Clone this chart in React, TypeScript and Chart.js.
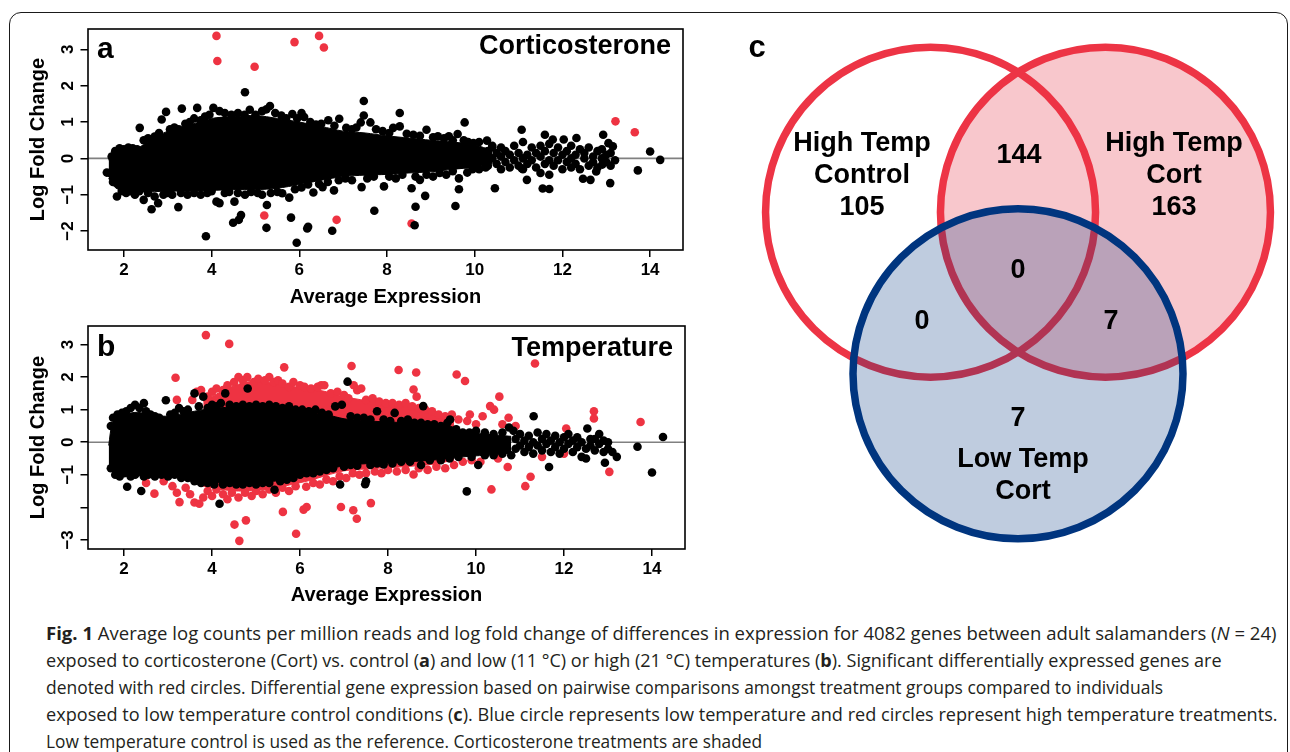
import React, { useEffect, useLayoutEffect, useRef, useState } from 'react';
import { Chart, registerables } from 'chart.js';

Chart.register(...registerables);

type Pt = [number, number];

const PLOT_FONT = '"Liberation Sans", Arial, Helvetica, sans-serif';
const RED = '#ee3342';
const BLACK = '#000000';

// ---------------- shared x axis ----------------
const xTicks = [2, 4, 6, 8, 10, 12, 14];
const xRange = [1.18, 14.75];

// ---------------- panel a : Corticosterone ----------------
const aYTicks = [-2, -1, 0, 1, 2, 3];
const aYTickLabels = ['\u22122', '\u22121', '0', '1', '2', '3'];
const aYRange = [-2.52, 3.56];
const aCoreX = [1.65, 1.8, 2.0, 2.3, 2.6, 3.0, 3.5, 4.0, 4.5, 5.0, 5.5, 6.0, 6.5, 7.0, 7.5, 8.0, 8.5, 9.0, 9.5, 10.0, 10.4];
const aCoreUpper = [-0.05, 0.2, 0.25, 0.28, 0.5, 0.75, 0.92, 1.1, 1.15, 1.18, 1.1, 1.0, 0.88, 0.75, 0.7, 0.62, 0.56, 0.5, 0.45, 0.37, 0.22];
const aCoreLower = [-0.55, -0.8, -0.9, -0.92, -0.92, -0.9, -0.9, -0.88, -0.86, -0.86, -0.82, -0.72, -0.6, -0.5, -0.46, -0.44, -0.4, -0.37, -0.3, -0.24, -0.14];
const aRed: Pt[] = [
  [4.11, 3.37], [4.13, 2.68], [4.98, 2.52], [5.89, 3.2], [6.45, 3.37], [6.56, 3.05],
  [13.21, 1.02], [13.65, 0.72], [5.2, -1.57], [6.85, -1.69], [8.56, -1.79],
];
const aBlack: Pt[] = [
  // upper fringe
  [1.72, 0.05], [1.8, 0.2], [1.9, 0.28], [2.0, 0.25], [2.1, 0.3], [2.2, 0.28], [2.3, 0.25], [2.36, 0.84],
  [2.45, 0.5], [2.55, 0.55], [2.63, 0.52], [2.7, 0.6], [2.8, 0.7], [2.86, 1.07], [2.96, 1.28], [3.05, 0.8],
  [3.15, 0.85], [3.25, 0.8], [3.32, 1.37], [3.4, 0.95], [3.5, 1.0], [3.6, 1.1], [3.67, 1.39], [3.75, 1.05],
  [3.85, 1.15], [3.95, 1.2], [4.04, 1.39], [4.18, 1.3], [4.3, 1.25], [4.45, 1.2], [4.6, 1.25], [4.75, 1.2],
  [4.87, 1.34], [5.0, 1.2], [5.15, 1.3], [5.25, 1.35], [5.33, 1.44], [5.45, 1.25], [5.59, 1.18], [5.7, 1.1],
  [5.84, 1.22], [5.95, 1.1], [6.05, 1.25], [6.11, 1.14], [6.25, 1.0], [6.38, 0.93], [6.5, 0.95], [6.66, 1.05],
  [6.8, 0.9], [6.91, 1.09], [7.07, 0.84], [7.2, 0.8], [7.3, 0.85], [7.4, 0.99], [7.47, 1.18], [7.62, 0.99],
  [7.75, 0.8], [7.9, 0.75], [8.05, 0.7], [8.14, 0.84], [8.29, 0.88], [8.45, 0.68], [8.6, 0.65], [8.75, 0.62],
  [8.9, 0.79], [9.05, 0.58], [9.16, 0.61], [9.3, 0.55], [9.41, 0.61], [9.5, 0.5], [9.61, 0.67], [9.75, 0.5],
  [9.85, 0.45], [9.97, 0.42], [10.1, 0.45], [10.28, 0.49], [10.4, 0.35],
  [4.76, 1.82], [7.47, 1.58], [8.29, 1.25], [9.77, 0.99],
  // lower fringe
  [1.68, -0.4], [1.75, -0.65], [1.84, -1.05], [1.95, -0.9], [2.05, -0.95], [2.15, -0.9], [2.25, -1.0],
  [2.35, -0.9], [2.45, -1.14], [2.55, -0.95], [2.63, -1.4], [2.7, -1.05], [2.78, -1.23], [2.9, -1.0],
  [3.0, -0.95], [3.1, -1.0], [3.24, -1.34], [3.3, -0.95], [3.45, -1.0], [3.6, -0.95], [3.75, -1.0],
  [3.9, -0.95], [4.0, -0.9], [4.11, -1.19], [4.18, -1.23], [4.3, -0.95], [4.4, -0.92], [4.52, -1.19],
  [4.6, -0.95], [4.76, -1.0], [4.9, -0.92], [5.05, -0.95], [5.15, -1.0], [5.26, -1.28], [5.35, -0.95],
  [5.5, -0.92], [5.61, -0.96], [5.77, -1.08], [5.9, -0.85], [6.05, -0.8], [6.2, -0.72], [6.32, -0.94],
  [6.45, -0.7], [6.53, -0.79], [6.65, -0.65], [6.79, -0.88], [6.9, -0.6], [7.05, -0.55], [7.2, -0.6],
  [7.42, -0.79], [7.55, -0.55], [7.7, -0.5], [7.93, -0.77], [8.05, -0.5], [8.2, -0.55], [8.35, -0.45],
  [8.56, -0.82], [8.65, -0.5], [8.75, -0.59], [8.9, -0.45], [9.05, -0.5], [9.2, -0.4], [9.35, -0.45],
  [9.5, -0.35], [9.64, -0.55], [9.83, -0.39], [9.95, -0.3], [10.1, -0.3], [10.25, -0.25],
  [1.61, -0.39], [3.87, -2.14], [4.49, -1.77], [4.62, -1.69], [4.67, -1.56], [5.25, -1.91], [5.81, -1.63],
  [5.94, -2.32], [6.18, -1.93], [6.2, -1.88], [6.75, -1.99], [7.71, -1.44], [8.63, -1.84], [8.65, -1.33],
  [8.87, -1.03], [9.56, -1.31], [9.64, -0.85], [10.46, -0.82],
  // high-expression tail
  [11.07, 0.79], [11.6, 0.65], [11.78, 0.52], [12.03, 0.52], [12.32, 0.56], [12.93, 0.65], [13.05, 0.42],
  [13.15, 0.33], [14.0, 0.19], [14.23, -0.04], [13.72, -0.33], [13.09, -0.68], [12.77, -0.36], [12.64, -0.59],
  [12.47, -0.56], [12.91, -0.17], [11.55, -0.83], [11.7, -0.84], [11.19, -0.59], [11.07, -0.27],
  [10.3, 0.2], [10.3, -0.2], [10.4, 0.0], [10.4, 0.3], [10.5, -0.15], [10.5, 0.15], [10.6, 0.3], [10.6, -0.3],
  [10.6, 0.05], [10.7, -0.1], [10.7, 0.2], [10.8, 0.1], [10.8, -0.25], [10.9, 0.35], [10.9, -0.05],
  [11.0, 0.15], [11.0, -0.2], [11.1, 0.45], [11.1, 0.0], [11.1, -0.3], [11.2, 0.1], [11.2, -0.15],
  [11.3, 0.3], [11.3, -0.05], [11.4, -0.25], [11.4, 0.15], [11.5, 0.05], [11.5, 0.35], [11.5, -0.4],
  [11.6, 0.2], [11.6, -0.15], [11.7, 0.4], [11.7, -0.05], [11.7, -0.45], [11.8, 0.15], [11.8, -0.2],
  [11.9, 0.3], [11.9, -0.05], [12.0, 0.1], [12.0, -0.3], [12.1, 0.2], [12.1, -0.1], [12.2, 0.35],
  [12.2, 0.0], [12.2, -0.25], [12.3, 0.1], [12.3, -0.15], [12.4, 0.25], [12.4, -0.3], [12.5, 0.0],
  [12.5, 0.15], [12.6, 0.3], [12.6, -0.2], [12.7, 0.05], [12.7, -0.1], [12.8, 0.2], [12.8, -0.25],
  [12.9, 0.0], [12.9, 0.25], [13.0, -0.1], [13.0, 0.1], [13.1, -0.2], [13.1, 0.15], [13.2, -0.05],
];

// ---------------- panel b : Temperature ----------------
const bYTicks = [-3, -2, -1, 0, 1, 2, 3];
const bYTickLabels = ['\u22123', '', '\u22121', '0', '1', '2', '3'];
const bYRange = [-3.28, 3.57];
const bCoreX = [1.65, 1.75, 2.0, 2.3, 2.6, 3.0, 3.4, 3.8, 4.2, 4.6, 5.0, 5.4, 5.8, 6.2, 6.6, 7.0, 7.5, 8.0, 8.5, 9.0, 9.4, 9.7, 10.2, 10.8];
const bCoreUpper = [-0.1, 0.62, 0.84, 0.92, 0.84, 0.8, 0.9, 1.0, 1.06, 1.08, 1.08, 1.06, 1.0, 0.93, 0.85, 0.72, 0.66, 0.62, 0.6, 0.55, 0.5, 0.32, 0.25, 0.18];
const bCoreLower = [-0.7, -0.95, -1.03, -1.03, -1.0, -1.0, -1.1, -1.2, -1.25, -1.26, -1.26, -1.2, -1.1, -0.95, -0.85, -0.72, -0.66, -0.64, -0.6, -0.55, -0.5, -0.45, -0.4, -0.34];
const bRedX = [3.8, 4.2, 4.6, 5.0, 5.4, 5.8, 6.2, 6.6, 7.0, 7.5, 8.0, 8.5, 9.0, 9.5];
const bRedUpper = [1.25, 1.55, 1.78, 1.88, 1.82, 1.72, 1.65, 1.55, 1.4, 1.28, 1.18, 1.08, 0.92, 0.72];
const bRedLower = [-1.35, -1.45, -1.5, -1.48, -1.42, -1.3, -1.18, -1.02, -0.88, -0.82, -0.78, -0.74, -0.68, -0.55];
const bRed: Pt[] = [
  [3.17, 1.98], [3.2, 1.3], [3.55, 1.3], [3.65, 1.55], [3.75, 1.6], [3.86, 3.29], [3.9, 1.4], [4.0, 1.55],
  [4.1, 1.65], [4.25, 1.6], [4.39, 3.02], [4.35, 1.75], [4.5, 1.85], [4.6, 2.0], [4.7, 1.9], [4.8, 2.0],
  [4.95, 1.85], [5.05, 1.95], [5.2, 1.9], [5.3, 2.0], [5.4, 1.85], [5.5, 1.9], [5.64, 2.3], [5.6, 1.8],
  [5.75, 1.7], [5.85, 1.85], [6.0, 1.75], [6.1, 1.7], [6.25, 1.65], [6.4, 1.7], [6.48, 1.75], [6.55, 1.75],
  [6.7, 1.5], [6.85, 1.55], [7.0, 1.45], [7.1, 1.35], [7.17, 2.34], [7.22, 1.75], [7.3, 1.6], [7.39, 1.65],
  [7.5, 1.3], [7.65, 1.35], [7.8, 1.25], [7.95, 1.2], [8.1, 1.2], [8.24, 2.22], [8.25, 1.15], [8.4, 1.2],
  [8.58, 1.62], [8.65, 1.4], [8.64, 2.14], [8.55, 1.1], [8.7, 1.05], [8.85, 1.0], [9.0, 0.95], [9.15, 0.85],
  [9.3, 0.8], [9.56, 2.08], [9.75, 1.88], [9.45, 0.85], [9.6, 0.7], [9.8, 0.65], [9.86, 0.85], [10.0, 0.55],
  [10.15, 0.8], [10.32, 1.11], [10.41, 1.0], [10.53, 1.4], [10.6, 0.55], [10.74, 0.75], [10.9, 0.5],
  [11.34, 2.42], [12.05, 0.42], [12.68, 0.95], [12.68, 0.73], [13.74, 0.62],
  [2.5, -1.25], [2.69, -1.58], [2.9, -1.2], [3.1, -1.35], [3.2, -1.55], [3.26, -1.84], [3.4, -1.4],
  [3.5, -1.6], [3.6, -1.85], [3.71, -1.89], [3.8, -1.7], [3.9, -1.5], [4.0, -1.65], [4.1, -1.45],
  [4.25, -1.6], [4.35, -1.75], [4.45, -1.55], [4.51, -2.53], [4.62, -3.03], [4.77, -2.4], [4.6, -1.7],
  [4.75, -1.55], [4.9, -1.65], [5.0, -1.5], [5.15, -1.6], [5.3, -1.45], [5.45, -1.55], [5.61, -2.14],
  [5.6, -1.4], [5.75, -1.5], [5.91, -2.81], [5.9, -1.35], [6.08, -2.07], [6.15, -1.99], [6.14, -1.37],
  [6.3, -1.25], [6.45, -1.3], [6.6, -1.15], [6.75, -1.2], [6.93, -1.99], [6.9, -1.05], [7.05, -1.1],
  [7.21, -2.09], [7.29, -2.35], [7.2, -0.95], [7.35, -1.0], [7.5, -0.95], [7.61, -1.87], [7.7, -0.9],
  [7.85, -0.95], [8.0, -0.85], [8.2, -0.9], [8.4, -0.85], [8.58, -0.99], [8.7, -0.8], [8.9, -0.85],
  [9.1, -0.75], [9.3, -0.8], [9.5, -0.7], [9.7, -0.6], [9.9, -0.55], [10.1, -0.6], [10.35, -1.45],
  [10.5, -0.5], [10.72, -0.76], [11.12, -1.35], [11.24, -1.06], [11.5, -0.45], [12.0, -0.35], [13.03, -0.91],
];
const bBlack: Pt[] = [
  [1.7, 0.5], [1.75, 0.75], [1.85, 0.85], [1.95, 0.9], [2.05, 0.95], [2.15, 1.05], [2.25, 1.15], [2.35, 1.05],
  [2.45, 1.2], [2.5, 0.95], [2.6, 0.85], [2.7, 0.8], [2.8, 0.75], [2.95, 1.29], [3.05, 0.85], [3.15, 0.9],
  [3.25, 1.05], [3.35, 0.95], [3.45, 1.0], [3.6, 1.5], [3.7, 1.1], [3.8, 1.4], [3.9, 1.05], [4.0, 1.15],
  [4.1, 1.1], [4.2, 1.2], [4.3, 1.5], [4.4, 1.15], [4.55, 1.1], [4.7, 1.15], [4.81, 1.65], [4.85, 1.1],
  [5.0, 1.15], [5.15, 1.1], [5.3, 1.15], [5.45, 1.1], [5.6, 1.05], [5.75, 1.1], [5.9, 1.0], [6.05, 1.0],
  [6.2, 0.95], [6.35, 1.0], [6.5, 0.9], [6.65, 0.85], [6.8, 1.1], [6.95, 1.15], [7.08, 1.86], [7.15, 0.8],
  [7.3, 0.75], [7.45, 0.75], [7.6, 0.7], [7.75, 0.95], [7.9, 0.7], [8.05, 0.65], [8.15, 0.9], [8.3, 0.65],
  [8.45, 0.7], [8.6, 0.6], [8.8, 1.11], [8.75, 0.6], [8.9, 0.55], [9.05, 0.55], [9.2, 0.5], [9.35, 0.6],
  [9.41, 0.7], [9.55, 0.4], [9.7, 0.3], [9.85, 0.3], [10.0, 0.35], [10.2, 0.3], [10.4, 0.25], [10.6, 0.3],
  [10.75, 0.45], [10.85, 0.35],
  [1.7, -0.8], [1.8, -1.0], [1.9, -1.05], [2.0, -0.95], [2.07, -1.37], [2.15, -1.05], [2.25, -1.0],
  [2.39, -1.5], [2.45, -1.05], [2.55, -1.0], [2.7, -1.05], [2.85, -1.0], [3.0, -1.05], [3.15, -1.0],
  [3.3, -1.1], [3.45, -1.1], [3.6, -1.2], [3.75, -1.25], [3.9, -1.25], [4.05, -1.3], [4.17, -1.89],
  [4.25, -1.3], [4.4, -1.25], [4.55, -1.3], [4.7, -1.3], [4.85, -1.25], [5.0, -1.3], [5.15, -1.25],
  [5.3, -1.25], [5.42, -1.46], [5.55, -1.2], [5.7, -1.15], [5.85, -1.1], [6.0, -1.0], [6.15, -0.95],
  [6.3, -0.95], [6.45, -0.9], [6.6, -0.85], [6.75, -0.8], [6.91, -1.3], [7.0, -0.75], [7.15, -0.7],
  [7.3, -0.72], [7.48, -1.29], [7.5, -1.2], [7.6, -0.7], [7.75, -0.65], [7.9, -0.68], [8.1, -0.65],
  [8.3, -0.6], [8.5, -0.6], [8.75, -0.7], [8.95, -0.55], [9.2, -0.55], [9.4, -0.5], [9.6, -0.45],
  [9.79, -1.51], [9.9, -0.45], [10.05, -0.7], [10.2, -0.4], [10.4, -0.4], [10.6, -0.35], [10.8, -0.4],
  [11.31, 0.8], [11.66, -0.76], [12.53, 0.42], [12.93, -0.63], [13.2, -0.45], [13.67, -0.14], [14.0, -0.93],
  [14.25, 0.16], [12.4, -0.45], [12.5, -0.5], [13.1, -0.3], [13.0, -0.2], [12.8, 0.25], [12.7, 0.1],
  [10.9, 0.1], [10.9, -0.2], [11.0, 0.25], [11.0, -0.1], [11.1, 0.05], [11.1, -0.3], [11.2, 0.2],
  [11.2, -0.15], [11.3, 0.0], [11.3, -0.35], [11.4, 0.3], [11.4, -0.1], [11.5, 0.1], [11.5, -0.25],
  [11.6, 0.25], [11.6, -0.05], [11.7, 0.05], [11.7, -0.3], [11.8, 0.2], [11.8, -0.15], [11.9, 0.0],
  [11.9, -0.35], [12.0, 0.15], [12.0, -0.2], [12.1, 0.25], [12.1, -0.05], [12.2, 0.05], [12.2, -0.3],
  [12.3, 0.15], [12.3, -0.15], [12.4, 0.0], [12.5, -0.2], [12.6, 0.1], [12.6, -0.1], [12.7, -0.25],
  [12.8, -0.05], [12.9, 0.05], [12.9, -0.3], [13.0, 0.0],
];

// ---------------- panel c : Venn ----------------
const vennXRange = [-1.9273, 1.6485];
const vennYRange = [-1.6182, 1.7758];
const vennCenters: Pt[] = [[-0.53, 0.49], [0.53, 0.49], [0, -0.49]]; // High Temp Control, High Temp Cort, Low Temp Cort
const vennLabels = [
  { lines: ['High Temp', 'Control', '105'], x: -0.945, y: 0.709 },
  { lines: ['144'], x: 0.006, y: 0.836 },
  { lines: ['High Temp', 'Cort', '163'], x: 0.945, y: 0.709 },
  { lines: ['0'], x: 0, y: 0.139 },
  { lines: ['0'], x: -0.582, y: -0.17 },
  { lines: ['7'], x: 0.564, y: -0.17 },
  { lines: ['7'], x: 0, y: -0.758 },
  { lines: ['Low Temp', 'Cort'], x: 0.03, y: -1.106 },
];

// ---------------- helpers ----------------
const xy = (xs: number[], ys: number[]) => xs.map((x, i) => ({ x, y: ys[i] }));
const pts = (p: Pt[]) => p.map(([x, y]) => ({ x, y }));
const DOT_R = 4.3;

function areaUpper(xs: number[], ys: number[], color: string, order: number) {
  return { type: 'line', data: xy(xs, ys), fill: '+1', backgroundColor: color, borderColor: color, borderWidth: 1, pointRadius: 0, pointHoverRadius: 0, tension: 0.3, order };
}
function areaLower(xs: number[], ys: number[], color: string, order: number) {
  return { type: 'line', data: xy(xs, ys), fill: false, backgroundColor: color, borderColor: color, borderWidth: 1, pointRadius: 0, pointHoverRadius: 0, tension: 0.3, order };
}
function dots(p: Pt[], color: string, order: number) {
  return { type: 'scatter', data: pts(p), showLine: false, pointRadius: DOT_R, pointHoverRadius: DOT_R, pointBackgroundColor: color, pointBorderColor: color, pointBorderWidth: 0, order };
}

interface MAProps {
  left: number; top: number; width: number; height: number;
  padTop: number; padRight: number; xAxisH: number;
  letter: string; title: string; letterDy: number; titleDy: number;
  yTicks: number[]; yTickLabels: string[]; yRange: number[];
  coreX: number[]; coreUpper: number[]; coreLower: number[];
  bandX?: number[]; bandUpper?: number[]; bandLower?: number[];
  black: Pt[]; red: Pt[];
}

function MAPanel(p: MAProps) {
  const ref = useRef<HTMLCanvasElement>(null);
  useEffect(() => {
    if (!ref.current) return;
    const datasets: any[] = [];
    if (p.bandX && p.bandUpper && p.bandLower) {
      datasets.push(areaUpper(p.bandX, p.bandUpper, RED, 6));
      datasets.push(areaLower(p.bandX, p.bandLower, RED, 5));
    }
    datasets.push(dots(p.red, RED, 4));
    datasets.push(areaUpper(p.coreX, p.coreUpper, BLACK, 3));
    datasets.push(areaLower(p.coreX, p.coreLower, BLACK, 2));
    datasets.push(dots(p.black, BLACK, 1));

    const decor = {
      id: 'maDecor',
      beforeDatasetsDraw(chart: any) {
        const { ctx, chartArea: a, scales } = chart;
        const y0 = scales.y.getPixelForValue(0);
        ctx.save();
        ctx.strokeStyle = '#808080';
        ctx.lineWidth = 1.6;
        ctx.beginPath();
        ctx.moveTo(a.left, y0);
        ctx.lineTo(a.right, y0);
        ctx.stroke();
        ctx.restore();
      },
      afterDraw(chart: any) {
        const { ctx, chartArea: a, scales } = chart;
        ctx.save();
        ctx.strokeStyle = '#000';
        ctx.lineWidth = 1.6;
        ctx.strokeRect(a.left, a.top, a.right - a.left, a.bottom - a.top);
        ctx.fillStyle = '#000';
        ctx.font = `bold 17px ${PLOT_FONT}`;
        ctx.textAlign = 'center';
        ctx.textBaseline = 'middle';
        p.yTicks.forEach((v, i) => {
          const lbl = p.yTickLabels[i];
          if (!lbl) return;
          const y = scales.y.getPixelForValue(v);
          ctx.save();
          ctx.translate(a.left - 20, y);
          ctx.rotate(-Math.PI / 2);
          ctx.fillText(lbl, 0, 0);
          ctx.restore();
        });
        ctx.textBaseline = 'alphabetic';
        ctx.textAlign = 'left';
        ctx.font = `bold 30px ${PLOT_FONT}`;
        ctx.fillText(p.letter, a.left + 9, a.top + p.letterDy);
        ctx.textAlign = 'right';
        ctx.font = `bold 27px ${PLOT_FONT}`;
        ctx.fillText(p.title, a.right - 12, a.top + p.titleDy);
        ctx.restore();
      },
    };

    const chart = new Chart(ref.current, {
      type: 'scatter',
      data: { datasets },
      options: {
        animation: false,
        responsive: false,
        maintainAspectRatio: false,
        events: [],
        layout: { autoPadding: false, padding: { top: p.padTop, right: p.padRight, bottom: 0, left: 0 } },
        plugins: { legend: { display: false }, tooltip: { enabled: false } },
        scales: {
          x: {
            type: 'linear',
            min: xRange[0],
            max: xRange[1],
            afterBuildTicks: (s: any) => { s.ticks = xTicks.map((v) => ({ value: v })); },
            ticks: { color: '#000', font: { family: PLOT_FONT, size: 17, weight: 'bold' }, padding: 3, maxRotation: 0, autoSkip: false, callback: (v: any) => String(v) },
            grid: { drawOnChartArea: false, drawTicks: true, tickLength: 7, color: '#000', lineWidth: 1.5 },
            border: { display: false },
            title: { display: true, text: 'Average Expression', color: '#000', font: { family: PLOT_FONT, size: 20, weight: 'bold', lineHeight: 1.2 }, padding: { top: 0, bottom: 3 } },
            afterFit: (s: any) => { s.height = p.xAxisH; },
          },
          y: {
            type: 'linear',
            min: p.yRange[0],
            max: p.yRange[1],
            afterBuildTicks: (s: any) => { s.ticks = p.yTicks.map((v) => ({ value: v })); },
            ticks: { display: false },
            grid: { drawOnChartArea: false, drawTicks: true, tickLength: 7.5, color: '#000', lineWidth: 1.5 },
            border: { display: false },
            title: { display: true, text: 'Log Fold Change', color: '#000', font: { family: PLOT_FONT, size: 20, weight: 'bold', lineHeight: 1.2 }, padding: { top: 26, bottom: 0 } },
            afterFit: (s: any) => { s.width = 88; },
          },
        },
      } as any,
      plugins: [decor],
    } as any);
    return () => chart.destroy();
  }, []);
  return (
    <canvas
      ref={ref}
      width={p.width}
      height={p.height}
      style={{ position: 'absolute', left: p.left, top: p.top, width: p.width, height: p.height }}
    />
  );
}

function Venn() {
  const ref = useRef<HTMLCanvasElement>(null);
  useEffect(() => {
    if (!ref.current) return;
    const R = 165;
    const c = pts(vennCenters);
    const labelPlugin = {
      id: 'vennLabels',
      afterDatasetsDraw(chart: any) {
        const { ctx, scales } = chart;
        ctx.save();
        ctx.fillStyle = '#000';
        ctx.textAlign = 'center';
        ctx.textBaseline = 'middle';
        ctx.font = `bold 27px ${PLOT_FONT}`;
        vennLabels.forEach((l) => {
          const cx = scales.x.getPixelForValue(l.x);
          const cy = scales.y.getPixelForValue(l.y);
          const lh = 32;
          l.lines.forEach((t, i) => {
            ctx.fillText(t, cx, cy - ((l.lines.length - 1) * lh) / 2 + i * lh);
          });
        });
        ctx.font = `bold 31px ${PLOT_FONT}`;
        ctx.textBaseline = 'alphabetic';
        ctx.fillText('c', 57, 57);
        ctx.restore();
      },
    };
    const circle = (data: any[], fill: string, stroke: string, bw: number, order: number) => ({
      type: 'scatter', data, showLine: false, pointRadius: R, pointHoverRadius: R,
      pointBackgroundColor: fill, pointBorderColor: stroke, pointBorderWidth: bw, clip: false, order,
    });
    const chart = new Chart(ref.current, {
      type: 'scatter',
      data: {
        datasets: [
          circle([c[1]], '#f8c7cc', 'rgba(0,0,0,0)', 0, 4),
          circle([c[0], c[1]], 'rgba(0,0,0,0)', '#ed3445', 7.5, 3),
          circle([c[2]], 'rgba(0,51,128,0.25)', 'rgba(0,0,0,0)', 0, 2),
          circle([c[2]], 'rgba(0,0,0,0)', '#00357f', 7.5, 1),
        ],
      },
      options: {
        animation: false,
        responsive: false,
        maintainAspectRatio: false,
        events: [],
        layout: { autoPadding: false, padding: 0 },
        plugins: { legend: { display: false }, tooltip: { enabled: false } },
        scales: {
          x: { type: 'linear', display: false, min: vennXRange[0], max: vennXRange[1] },
          y: { type: 'linear', display: false, min: vennYRange[0], max: vennYRange[1] },
        },
      } as any,
      plugins: [labelPlugin],
    } as any);
    return () => chart.destroy();
  }, []);
  return (
    <canvas ref={ref} width={590} height={560} style={{ position: 'absolute', left: 700, top: 0, width: 590, height: 560 }} />
  );
}

const captionLines = [
  <><b>Fig. 1</b> Average log counts per million reads and log fold change of differences in expression for 4082 genes between adult salamanders (<i>N</i>&nbsp;=&nbsp;24)</>,
  <>exposed to corticosterone (Cort) vs. control (<b>a</b>) and low (11&nbsp;°C) or high (21&nbsp;°C) temperatures (<b>b</b>). Significant differentially expressed genes are</>,
  <>denoted with red circles. Differential gene expression based on pairwise comparisons amongst treatment groups compared to individuals</>,
  <>exposed to low temperature control conditions (<b>c</b>). Blue circle represents low temperature and red circles represent high temperature treatments.</>,
  <>Low temperature control is used as the reference. Corticosterone treatments are shaded</>,
];
const captionWidths = [1231, 1176, 1117, 1232, 716];

function Caption() {
  const refs = useRef<(HTMLSpanElement | null)[]>([]);
  const [scales, setScales] = useState<number[]>(captionWidths.map(() => 0.9));
  useLayoutEffect(() => {
    const s = captionWidths.map((w, i) => {
      const el = refs.current[i];
      const ow = el ? el.offsetWidth : 0;
      return ow > 0 ? w / ow : 0.9;
    });
    setScales(s);
  }, []);
  return (
    <>
      {captionLines.map((line, i) => (
        <div
          key={i}
          style={{ position: 'absolute', left: 46, top: 620 + i * 27, height: 27, lineHeight: '27px', whiteSpace: 'nowrap' }}
        >
          <span
            ref={(el) => { refs.current[i] = el; }}
            style={{
              display: 'inline-block',
              fontFamily: '"Open Sans", "Noto Sans", sans-serif',
              fontSize: 18,
              color: '#231f20',
              transform: `scaleX(${scales[i]})`,
              transformOrigin: 'left center',
            }}
          >
            {line}
          </span>
        </div>
      ))}
    </>
  );
}

export default function App() {
  return (
    <div style={{ position: 'absolute', left: 0, top: 0, width: 1290, height: 752, overflow: 'hidden', background: '#fff' }}>
      <div
        style={{
          position: 'absolute', left: 9, top: 12, width: 1279, height: 800,
          border: '1.5px solid #1a1a1a', borderRadius: 12, boxSizing: 'border-box',
        }}
      />
      <MAPanel
        left={0} top={0} width={700} height={312} padTop={29} padRight={17} xAxisH={62}
        letter="a" title="Corticosterone" letterDy={29} titleDy={25}
        yTicks={aYTicks} yTickLabels={aYTickLabels} yRange={aYRange}
        coreX={aCoreX} coreUpper={aCoreUpper} coreLower={aCoreLower}
        black={aBlack} red={aRed}
      />
      <MAPanel
        left={0} top={300} width={700} height={310} padTop={26} padRight={15} xAxisH={61}
        letter="b" title="Temperature" letterDy={30} titleDy={30}
        yTicks={bYTicks} yTickLabels={bYTickLabels} yRange={bYRange}
        coreX={bCoreX} coreUpper={bCoreUpper} coreLower={bCoreLower}
        bandX={bRedX} bandUpper={bRedUpper} bandLower={bRedLower}
        black={bBlack} red={bRed}
      />
      <Venn />
      <Caption />
    </div>
  );
}
